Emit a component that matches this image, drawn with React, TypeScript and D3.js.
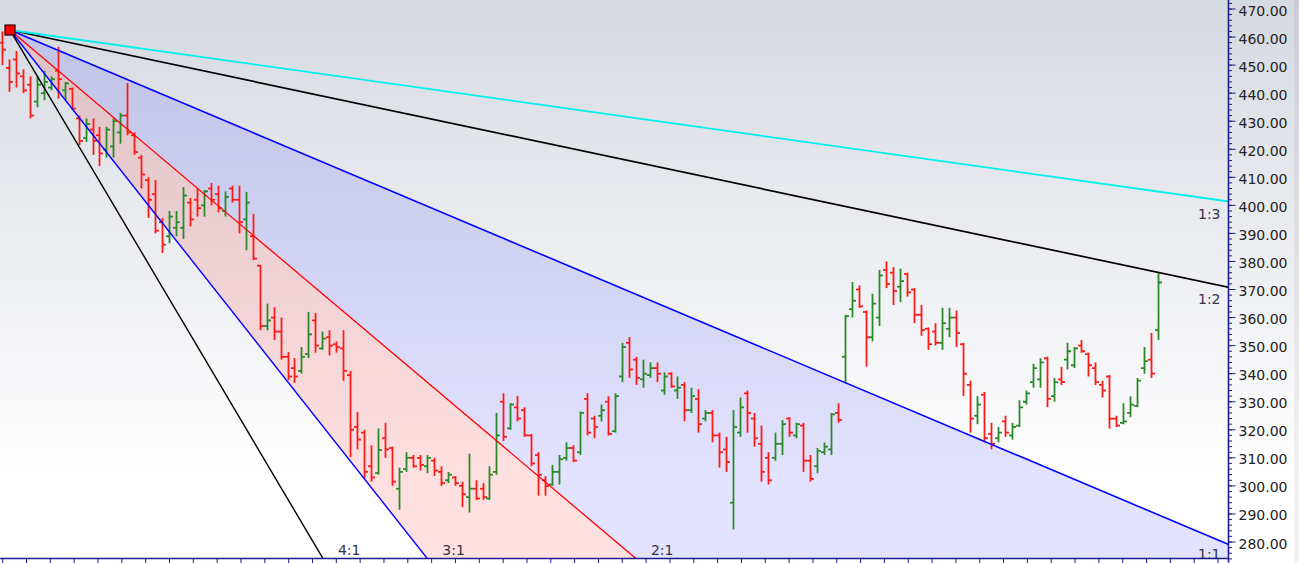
import React from 'react';
import * as d3 from 'd3';

// ---------- data ----------
const opens = [458,449,452,446,443,437,440,442,448,441,441.5,431,424,427,425,420,421,426,432,425,417,409,404,394,389,392,392,401,402,400,406,404,398,406,402,395,389,378.5,357,360,355,346,342,341,347,359,349,353,350.5,349,339.5,321,319,307,304.6,317,313.5,299,306,310,310,307,309,305,302,303,300,296,299,299,295.5,305,330,320.5,328,327,318,311,302,300.5,305,310,313.5,312,331,324,325,330,319.5,339,351,345,338,339.5,342,334,340,334,336,327,331,324,326,318,313,294,319,333,324,315,310,310,315,324,318,321.5,309,307,312,313,326,346,363,370,362,353,360,377,376,371,375.5,370,361,356,355,351,356,360,350.5,336,325,332.5,318.5,317,323,318,321.5,330,337,338,345.5,332,338,345,343,350,347,342,336,339,324,322.5,326,328.5,342,345,355.5];
const highs = [462,452,455,448.5,446,446,448,446,456.5,444,442,432,431,431,428,428,431,433,443.6,426,418,410,409,395.5,398,398,406.5,402.6,406,405.5,408,407,405,407,407,404.8,397,378.7,365,363.7,360,347.7,345.6,349.5,362,361.6,355,355.5,351.5,355.5,341,326.3,320,314.5,320.5,322.5,314,306.5,312,311,311,311,310,307,305,303.5,301.5,311.5,302,301,307,326,333,329.5,332,328,318.5,312,303.5,307.5,311,315.5,314.5,326.5,333,325,329,332,333,351,353,346,345,344,344,340.5,340.5,339,337,335,334.5,327,327,319,317.5,327,331.5,334,326,321.5,312,319,323.5,324.5,322.5,322.5,311,313.5,315.5,326,329.5,361,372.7,371.5,362.5,368.5,377,380,378,377.5,376,370.5,364.5,356.5,358,363.5,363.5,362.5,351,337.5,332,333.5,322.5,321,325,322.5,330.5,334,343.5,345.5,346,338.5,342.5,351,349.5,352,347.5,344,337.5,339.5,325,329.5,332,338.5,349.5,354.5,376];
const lows = [450,440.5,442,440,431,435,437.5,441,438,437.5,434,421.5,422.6,418,414,417,417,422,425,418,406,395.5,390,383,386.5,389,388,392.5,396,396,400,397.5,396,401,390,384,380.5,355.5,355.5,352,345,337.7,336.7,340,345.6,347.5,348.5,346.5,347.5,337.5,310.3,313,302.5,301.5,304,310,300,291.5,305,306.5,305.5,304.5,303.5,300,301,300,292.5,290.5,295,295,295,304,316,320,323,317.5,307,296.5,296.5,300,300.5,309,308.5,311,318,317,323,318,319,337,338.5,336,335,338.5,337,332.5,335,331,323,326,319,323,315.5,306.5,305,284.5,317.5,319,314,301.5,300.5,309,311,317.5,317,305,301.5,304.5,311,311,322.5,336.5,360,363.5,342.5,351.5,357,370.5,364.5,365.5,367.5,358,353.5,348.5,350,348.5,353,349.5,332,319,322,315.5,313,315.5,317.5,316.5,321,329,335,335,328,330,336,341.5,342,347.5,339,336,331.5,320.5,321,322,324.5,328,340,338.5,352];
const closes = [455.5,444,447,441,432,443,444,445,445,443.5,434.5,423,429,423,418.5,427,430,432,426,419,411,402,391,386,396,394,403.5,395,399,405,402,399,403,402,394,401,381,357,359,355,346,339,339,346,354,350,352.5,350,349.5,341,320,316.5,305,303,312.8,313,301.5,305,310,307,307.5,310,305.5,301,304,301,297,299,295.5,296,304,318,317.5,329,324,318,308,304,300,305,309.5,313.5,309,326,319,321,327,318.5,332,349.5,341.5,338.5,340,342,340,339,335.5,335,327,332,322,326,318,312,308.5,321,328,326,317,305,302,315,322,319,322,309,302.5,312.5,314,325.5,323.5,360.5,366,364,353,365,375,372,369.5,373,369,361,355.5,350.5,351,358,360,354.5,340,324,329,317,315,319,319,321,328,333,342,344,331,337,337,348,349,348,343,337,334,324,321.5,323,329,337.5,344.5,340,372.5];

const priceLabels = [280,290,300,310,320,330,340,350,360,370,380,390,400,410,420,430,440,450,460,470];

// Gann fan
const fanNames = ['4:1','3:1','2:1','1:1','1:2','1:3'];
const fanSlopes = [4,3,2,1,0.5,1/3];
const anchorIndex = 1.15;
const anchorPrice = 462.5;
const gannUnit = 1.048; // price per bar for 1:1

// ---------- layout / style ----------
const W = 1299, H = 563;
const plotRight = 1228.5, plotBottom = 558.5;
const fanColors: Record<string,string> = {'4:1':'#000000','3:1':'#0000ff','2:1':'#ff0000','1:1':'#0000ff','1:2':'#000000','1:3':'#00f0f0'};
const fanWidths: Record<string,number> = {'4:1':1.4,'3:1':1.4,'2:1':1.3,'1:1':1.6,'1:2':1.7,'1:3':1.9};
const UP = '#2a8a2a', DOWN = '#ff1a1a', AXIS = '#1d1d8e';

export default function App() {
  const n = opens.length;
  const x = d3.scaleLinear().domain([0, n - 1]).range([2, 1158]);
  const y = d3.scaleLinear().domain([280, 470]).range([542, 9]);

  const fanPrice = (k: number, i: number) => anchorPrice - k * gannUnit * (i - anchorIndex);
  const ax = x(anchorIndex), ay = y(anchorPrice);
  const iFar = x.invert(3000);
  const far = (k: number): [number, number] => [x(iFar), y(fanPrice(k, iFar))];

  const iRight = x.invert(plotRight);
  const pBottom = y.invert(plotBottom);

  const fans = fanNames.map((name, idx) => {
    const k = fanSlopes[idx];
    const pR = fanPrice(k, iRight);
    let label: { x: number; y: number; anchor: string };
    if (pR >= pBottom) {
      label = { x: plotRight - 8, y: Math.min(y(pR) + 17, 559), anchor: 'end' };
    } else {
      const ib = anchorIndex + (anchorPrice - pBottom) / (k * gannUnit);
      label = { x: x(ib) + 15, y: 555, anchor: 'start' };
    }
    return { name, k, label };
  });

  const wedge = (k1: number, k2: number) => {
    const a = far(k1), b = far(k2);
    return d3.line()([[ax, ay], a, b]) + 'Z';
  };

  const minorTicks = d3.range(274, 473, 2);
  const xTickStart = 0.1, xTickStep = 3.422;
  const xTicks = d3.range(xTickStart, n + 20, xTickStep).map(t => x(t)).filter(px => px <= plotRight - 3);

  const tl = 3.5;

  return (
    <svg width={W} height={H} style={{ position: 'absolute', left: 0, top: 0, display: 'block' }}
      fontFamily="'DejaVu Sans', Verdana, sans-serif">
      <defs>
        <linearGradient id="bg" x1="0" y1="0" x2="0" y2="1">
          <stop offset="0" stopColor="#d5d9e0" />
          <stop offset="0.55" stopColor="#f1f2f5" />
          <stop offset="0.85" stopColor="#ffffff" />
          <stop offset="1" stopColor="#ffffff" />
        </linearGradient>
        <clipPath id="plot">
          <rect x={0} y={0} width={plotRight} height={plotBottom} />
        </clipPath>
      </defs>
      <rect x={0} y={0} width={W} height={H} fill="url(#bg)" />
      <rect x={1294} y={0} width={5} height={H} fill="#000" opacity={0.05} />

      <g clipPath="url(#plot)">
        <path d={wedge(3, 2)} fill="#ff0000" fillOpacity={0.12} />
        <path d={wedge(2, 1)} fill="#0000ff" fillOpacity={0.11} />
        {opens.map((o, i) => {
          const c = closes[i];
          const col = c >= o ? UP : DOWN;
          const px = Math.round(x(i)) + 0.5;
          return (
            <g key={i} stroke={col} strokeWidth={1.8}>
              <line x1={px} x2={px} y1={y(highs[i])} y2={y(lows[i])} />
              <line x1={px - tl} x2={px} y1={y(o)} y2={y(o)} />
              <line x1={px} x2={px + tl} y1={y(c)} y2={y(c)} />
            </g>
          );
        })}
        {fans.map(f => {
          const [fx, fy] = far(f.k);
          return <line key={f.name} x1={ax} y1={ay} x2={fx} y2={fy}
            stroke={fanColors[f.name]} strokeWidth={fanWidths[f.name]} />;
        })}
      </g>

      {fans.map(f => (
        <text key={'l' + f.name} x={f.label.x} y={f.label.y} textAnchor={f.label.anchor}
          fontSize={14} fill="#33334a">{f.name}</text>
      ))}

      <rect x={ax - 5} y={ay - 5} width={10} height={10} fill="#ff0000" stroke="#2a0000" strokeWidth={1.2} />

      {/* right axis */}
      <line x1={plotRight} x2={plotRight} y1={0} y2={plotBottom + 4} stroke={AXIS} strokeWidth={1.6} />
      {minorTicks.map(p => (
        <line key={'m' + p} x1={plotRight} x2={plotRight + 3.5} y1={y(p)} y2={y(p)} stroke={AXIS} strokeWidth={1} />
      ))}
      {priceLabels.map(p => (
        <g key={'p' + p}>
          <line x1={plotRight} x2={plotRight + 7} y1={y(p)} y2={y(p)} stroke={AXIS} strokeWidth={1} />
          <text x={plotRight + 10} y={y(p) + 6.5} fontSize={14} fill="#222">{d3.format('.2f')(p)}</text>
        </g>
      ))}

      {/* bottom axis */}
      <line x1={0} x2={plotRight} y1={plotBottom} y2={plotBottom} stroke={AXIS} strokeWidth={1.6} />
      {xTicks.map((px, i) => (
        <line key={'x' + i} x1={px} x2={px} y1={plotBottom} y2={plotBottom + 4.5} stroke={AXIS} strokeWidth={1} />
      ))}
    </svg>
  );
}
